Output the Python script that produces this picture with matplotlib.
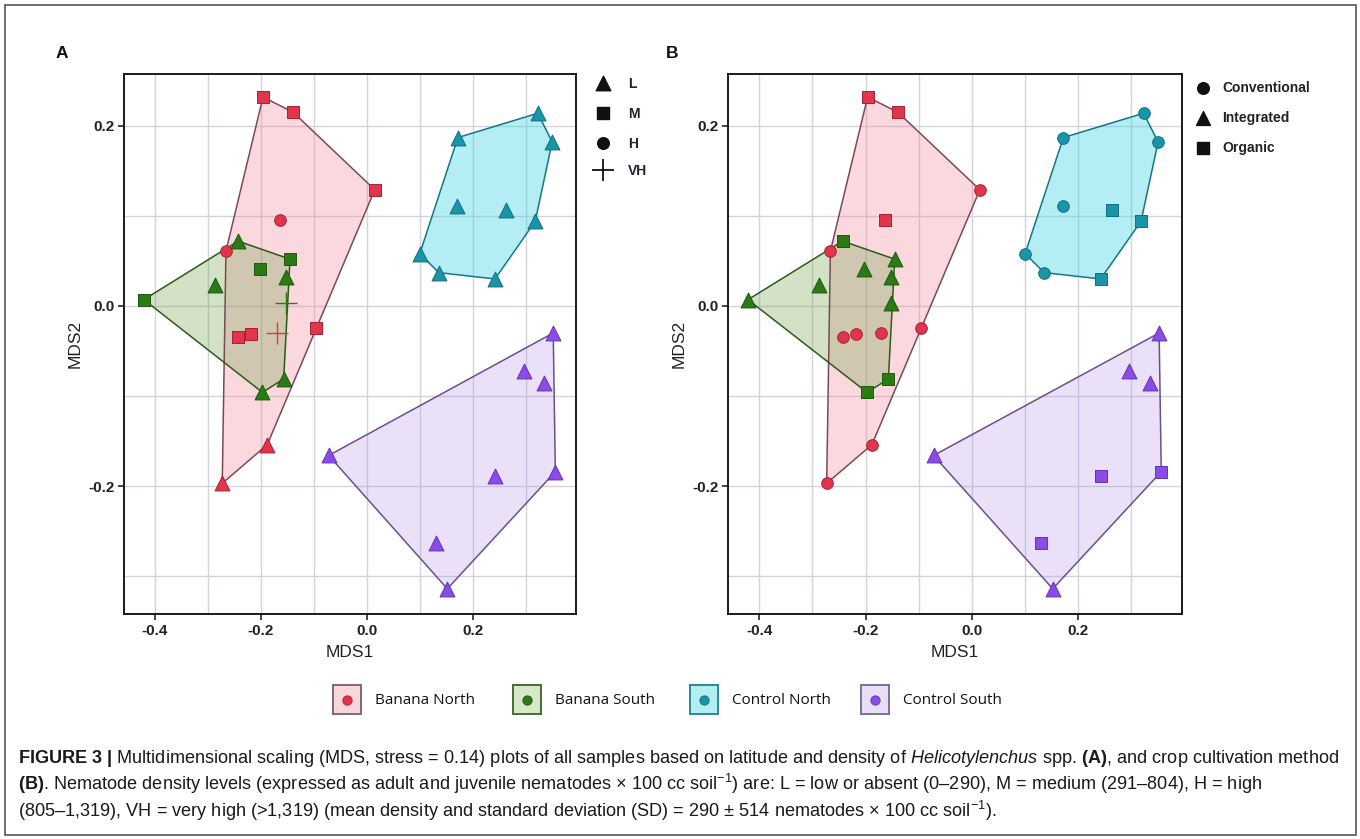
import numpy as np
import matplotlib
matplotlib.use("Agg")
import matplotlib.pyplot as plt
from matplotlib import font_manager
from matplotlib.patches import Polygon, Rectangle

# ---------------- data ----------------
groups = ["Banana North", "Banana South", "Control North", "Control South"]

bn_x = [-0.196, -0.139, 0.015, -0.164, -0.266, -0.096, -0.243, -0.218, -0.170, -0.188, -0.273]
bn_y = [0.232, 0.215, 0.129, 0.095, 0.061, -0.024, -0.034, -0.031, -0.030, -0.154, -0.197]
bn_density = ["M", "M", "M", "H", "H", "M", "M", "M", "VH", "L", "L"]
bn_method = ["O", "O", "C", "O", "C", "C", "C", "C", "C", "C", "C"]

bs_x = [-0.421, -0.287, -0.243, -0.202, -0.145, -0.153, -0.153, -0.157, -0.197]
bs_y = [0.007, 0.023, 0.072, 0.041, 0.052, 0.032, 0.003, -0.081, -0.096]
bs_density = ["M", "L", "L", "M", "M", "L", "VH", "L", "L"]
bs_method = ["I", "I", "O", "I", "I", "I", "I", "O", "O"]

cn_x = [0.172, 0.323, 0.350, 0.171, 0.263, 0.318, 0.100, 0.136, 0.242]
cn_y = [0.187, 0.214, 0.182, 0.111, 0.107, 0.094, 0.058, 0.037, 0.030]
cn_density = ["L", "L", "L", "L", "L", "L", "L", "L", "L"]
cn_method = ["C", "C", "C", "C", "O", "O", "C", "C", "O"]

cs_x = [0.352, 0.296, 0.334, -0.072, 0.356, 0.242, 0.130, 0.152]
cs_y = [-0.030, -0.072, -0.086, -0.166, -0.184, -0.189, -0.263, -0.314]
cs_density = ["L", "L", "L", "L", "L", "L", "L", "L"]
cs_method = ["I", "I", "I", "I", "O", "O", "O", "I"]

density_levels = ["L", "M", "H", "VH"]
method_levels = ["Conventional", "Integrated", "Organic"]
method_codes = ["C", "I", "O"]

x_ticks = [-0.4, -0.2, 0.0, 0.2]
y_ticks = [-0.2, 0.0, 0.2]
x_minor = [-0.3, -0.1, 0.1, 0.3]
y_minor = [-0.3, -0.1, 0.1]

# ---------------- styles ----------------
fams = {f.name for f in font_manager.fontManager.ttflist}
SANS = "Liberation Sans" if "Liberation Sans" in fams else "DejaVu Sans"
LEGF = "Open Sans" if "Open Sans" in fams else SANS
plt.rcParams["font.family"] = [SANS, "DejaVu Sans"]
plt.rcParams["mathtext.fontset"] = "custom"
plt.rcParams["mathtext.rm"] = SANS
plt.rcParams["mathtext.it"] = SANS + ":italic"
plt.rcParams["mathtext.bf"] = SANS + ":bold"

marker_col = ["#e0354b", "#2b7a14", "#1a95a8", "#8a4be6"]
marker_edge = ["#a81f33", "#1b5a0c", "#0f6f80", "#6333b8"]
fill_col = ["#f08094", "#6ea046", "#3cd2e1", "#a078e6"]
fill_alpha = [0.30, 0.30, 0.38, 0.22]
edge_col = ["#7a4a58", "#2d5a1c", "#137886", "#6b5088"]
box_fill = ["#f8d6db", "#d5e8c8", "#b4eef2", "#e8def8"]
box_edge = ["#7d6a70", "#4a6b38", "#2b8a96", "#7d6e96"]

dens_marker = {"L": "^", "M": "s", "H": "o", "VH": "+"}
meth_marker = {"C": "o", "I": "^", "O": "s"}
msize = {"^": 115, "s": 82, "o": 70, "+": 260}

data = [
    (bn_x, bn_y, bn_density, bn_method),
    (bs_x, bs_y, bs_density, bs_method),
    (cn_x, cn_y, cn_density, cn_method),
    (cs_x, cs_y, cs_density, cs_method),
]


def hull(xs, ys):
    pts = sorted(set(zip(xs, ys)))
    def cross(o, a, b):
        return (a[0] - o[0]) * (b[1] - o[1]) - (a[1] - o[1]) * (b[0] - o[0])
    lower, upper = [], []
    for p in pts:
        while len(lower) >= 2 and cross(lower[-2], lower[-1], p) <= 0:
            lower.pop()
        lower.append(p)
    for p in reversed(pts):
        while len(upper) >= 2 and cross(upper[-2], upper[-1], p) <= 0:
            upper.pop()
        upper.append(p)
    return np.array(lower[:-1] + upper[:-1])


fig = plt.figure(figsize=(13.6, 8.39), dpi=100)
W, H = 1360, 839


def add_panel(left, right, top, bottom, which):
    ax = fig.add_axes([left / W, (H - bottom) / H, (right - left) / W, (bottom - top) / H])
    ax.set_xlim(-0.4585, 0.395)
    ax.set_ylim(-0.342, 0.258)
    ax.set_xticks(x_ticks)
    ax.set_xticklabels(["-0.4", "-0.2", "0.0", "0.2"])
    ax.set_yticks(y_ticks)
    ax.set_yticklabels(["-0.2", "0.0", "0.2"])
    ax.set_xticks(x_minor, minor=True)
    ax.set_yticks(y_minor, minor=True)
    ax.tick_params(which="minor", length=0)
    ax.tick_params(which="major", length=4, width=1.2, color="#222222", labelsize=11,
                   labelcolor="#222222", pad=3)
    for lab in ax.get_xticklabels() + ax.get_yticklabels():
        lab.set_fontweight("bold")
    ax.grid(True, which="both", color="#d2d4dc", lw=1.0, zorder=0)
    ax.set_axisbelow(True)
    for s in ax.spines.values():
        s.set_linewidth(1.4)
        s.set_color("#1a1a1a")
    ax.set_xlabel("MDS1", fontsize=12.5, color="#222222", labelpad=5)
    ax.set_ylabel("MDS2", fontsize=12.5, color="#222222", labelpad=4)
    for i, (xs, ys, dens, meth) in enumerate(data):
        hp = hull(xs, ys)
        ax.add_patch(Polygon(hp, closed=True, facecolor=fill_col[i], alpha=fill_alpha[i],
                             edgecolor="none", zorder=1))
    for i, (xs, ys, dens, meth) in enumerate(data):
        hp = hull(xs, ys)
        ax.add_patch(Polygon(hp, closed=True, facecolor="none", edgecolor=edge_col[i],
                             lw=1.1, zorder=2))
    for i, (xs, ys, dens, meth) in enumerate(data):
        codes = dens if which == "A" else meth
        mp = dens_marker if which == "A" else meth_marker
        for code in sorted(set(codes)):
            idx = [k for k, c in enumerate(codes) if c == code]
            m = mp[code]
            px = [xs[k] for k in idx]
            py = [ys[k] for k in idx]
            if m == "+":
                ax.scatter(px, py, marker=m, s=msize[m], c=marker_col[i], linewidths=1.0, zorder=4)
            else:
                ax.scatter(px, py, marker=m, s=msize[m], c=marker_col[i], edgecolors=marker_edge[i],
                           linewidths=0.7, zorder=4)
    return ax


axA = add_panel(124, 576, 73.6, 614, "A")
axB = add_panel(728, 1182, 73.6, 614, "B")

# overlay in pixel coordinates
ov = fig.add_axes([0, 0, 1, 1], facecolor="none")
ov.set_xlim(0, W)
ov.set_ylim(H, 0)
ov.axis("off")

ov.add_patch(Rectangle((4.5, 4.5), 1351, 830, fill=False, edgecolor="#555555", lw=1.2))

ov.text(62, 53, "A", fontsize=12.5, fontweight="bold", ha="center", va="center", color="#111111")
ov.text(672, 53, "B", fontsize=12.5, fontweight="bold", ha="center", va="center", color="#111111")

# panel A shape legend
legA_y = [83, 113, 143, 170]
legA_m = ["^", "s", "o", "+"]
for lev, yy, m in zip(density_levels, legA_y, legA_m):
    if m == "+":
        ov.scatter([603], [yy], marker=m, s=240, c="#111111", linewidths=1.3)
    else:
        ov.scatter([603], [yy], marker=m, s={"^": 110, "s": 80, "o": 70}[m], c="#111111")
    ov.text(628, yy + 1, lev, fontsize=10, fontweight="bold", ha="left", va="center", color="#222233")

# panel B shape legend
legB_y = [88, 118, 148]
for lev, code, yy in zip(method_levels, method_codes, legB_y):
    m = meth_marker[code]
    ov.scatter([1203], [yy], marker=m, s={"^": 100, "s": 75, "o": 70}[m], c="#111111")
    ov.text(1222, yy, lev, fontsize=10, fontweight="bold", ha="left", va="center", color="#222222")

# bottom colour legend
box_x = [333, 513, 690, 861]
for i, g in enumerate(groups):
    bx = box_x[i]
    ov.add_patch(Rectangle((bx, 685), 28, 29, facecolor=box_fill[i], edgecolor=box_edge[i], lw=1.4))
    ov.scatter([bx + 14], [699.5], s=45, c=marker_col[i], edgecolors=marker_edge[i], linewidths=0.6)
    ov.text(bx + 42, 700, g, fontsize=11, family=[LEGF, "DejaVu Sans"], ha="left", va="center",
            color="#111111")

# caption
cap_lines = [
    r"$\mathbf{FIGURE\ 3\ |}$ Multidimensional scaling (MDS, stress = 0.14) plots of all samples based on latitude and density of $\mathit{Helicotylenchus}$ spp. $\mathbf{(A)}$, and crop cultivation method",
    r"$\mathbf{(B)}$. Nematode density levels (expressed as adult and juvenile nematodes × 100 cc soil$^{-1}$) are: L = low or absent (0–290), M = medium (291–804), H = high",
    r"(805–1,319), VH = very high (>1,319) (mean density and standard deviation (SD) = 290 ± 514 nematodes × 100 cc soil$^{-1}$).",
]
cap_y = [763, 790, 817]
renderer = fig.canvas.get_renderer()
t0 = ov.text(18, cap_y[0], cap_lines[0], fontsize=11, ha="left", va="baseline")
w0 = t0.get_window_extent(renderer=renderer).width
t0.remove()
cap_size = 11 * (1340 - 18) / w0
for line, yy in zip(cap_lines, cap_y):
    ov.text(18, yy, line, fontsize=cap_size, ha="left", va="baseline", color="#1a1a1a")

fig.savefig("out.png", dpi=100)
